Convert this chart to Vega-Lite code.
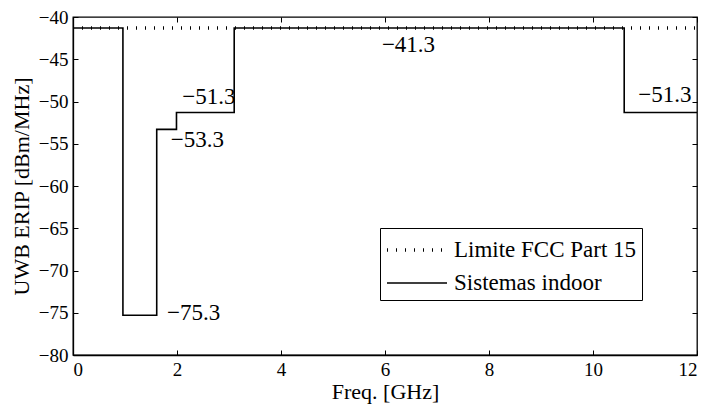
{
  "$schema": "https://vega.github.io/schema/vega-lite/v6.json",
  "width": 624,
  "height": 338,
  "autosize": {"type": "none"},
  "padding": {"left": 73, "top": 17, "right": 12, "bottom": 53},
  "background": "white",
  "config": {
    "font": "Liberation Serif, Times New Roman, DejaVu Serif, serif",
    "view": {"stroke": "black", "strokeWidth": 1.3},
    "text": {"font": "Liberation Serif, Times New Roman, DejaVu Serif, serif"},
    "axis": {
      "domainColor": "black",
      "domainWidth": 1.3,
      "tickColor": "black",
      "tickWidth": 1,
      "tickSize": -5,
      "labelFont": "Liberation Serif, Times New Roman, DejaVu Serif, serif",
      "labelFontSize": 19,
      "labelColor": "black",
      "titleFont": "Liberation Serif, Times New Roman, DejaVu Serif, serif",
      "titleFontSize": 22,
      "titleFontWeight": "normal",
      "titleColor": "black",
      "grid": false
    },
    "legend": {
      "labelFont": "Liberation Serif, Times New Roman, DejaVu Serif, serif",
      "labelLimit": 400
    }
  },
  "datasets": {
    "fcc": [
      {"f": 0, "p": -41.3, "series": "Limite FCC Part 15"},
      {"f": 12, "p": -41.3, "series": "Limite FCC Part 15"}
    ],
    "mask": [
      {"f": 0, "p": -41.3, "series": "Sistemas indoor"},
      {"f": 0.96, "p": -75.3, "series": "Sistemas indoor"},
      {"f": 1.61, "p": -53.3, "series": "Sistemas indoor"},
      {"f": 1.99, "p": -51.3, "series": "Sistemas indoor"},
      {"f": 3.1, "p": -41.3, "series": "Sistemas indoor"},
      {"f": 10.6, "p": -51.3, "series": "Sistemas indoor"},
      {"f": 12, "p": -51.3, "series": "Sistemas indoor"}
    ],
    "labels": [
      {"f": 5.94, "p": -43.3, "t": "−41.3"},
      {"f": 2.1, "p": -49.5, "t": "−51.3"},
      {"f": 1.88, "p": -54.6, "t": "−53.3"},
      {"f": 1.81, "p": -75.0, "t": "−75.3"},
      {"f": 10.87, "p": -49.2, "t": "−51.3"}
    ]
  },
  "layer": [
    {
      "data": {"name": "fcc"},
      "mark": {"type": "line", "color": "black", "clip": true},
      "encoding": {
        "x": {
          "field": "f", "type": "quantitative",
          "scale": {"domain": [0, 12], "nice": false, "zero": false},
          "axis": {"orient": "bottom", "values": [0, 2, 4, 6, 8, 10, 12], "title": "Freq. [GHz]", "labelPadding": 10, "titlePadding": 2}
        },
        "y": {
          "field": "p", "type": "quantitative",
          "scale": {"domain": [-80, -40], "nice": false, "zero": false},
          "axis": {"orient": "left", "values": [-80, -75, -70, -65, -60, -55, -50, -45, -40], "title": "UWB ERIP [dBm/MHz]", "labelPadding": 10, "titlePadding": 5}
        },
        "strokeDash": {
          "field": "series", "type": "nominal",
          "scale": {"domain": ["Limite FCC Part 15", "Sistemas indoor"], "range": [[1, 8], [1, 0]]},
          "legend": {
            "orient": "none", "legendX": 307, "legendY": 211, "title": null,
            "strokeColor": "black", "fillColor": "white", "padding": 5, "rowPadding": 5,
            "labelFontSize": 23, "labelColor": "black", "labelLimit": 400,
            "symbolType": "M-1,0H3", "symbolSize": 900, "labelOffset": 35, "symbolStrokeColor": "black"
          }
        },
        "strokeWidth": {
          "field": "series", "type": "nominal",
          "scale": {"domain": ["Limite FCC Part 15", "Sistemas indoor"], "range": [3.5, 1.6]},
          "legend": {
            "orient": "none", "legendX": 307, "legendY": 211, "title": null,
            "strokeColor": "black", "fillColor": "white", "padding": 5, "rowPadding": 5,
            "labelFontSize": 23, "labelColor": "black", "labelLimit": 400,
            "symbolType": "M-1,0H3", "symbolSize": 900, "labelOffset": 35, "symbolStrokeColor": "black"
          }
        }
      }
    },
    {
      "data": {"name": "mask"},
      "mark": {"type": "line", "color": "black", "interpolate": "step-after", "clip": true},
      "encoding": {
        "x": {"field": "f", "type": "quantitative", "axis": null},
        "y": {"field": "p", "type": "quantitative", "axis": null},
        "strokeDash": {"field": "series", "type": "nominal"},
        "strokeWidth": {"field": "series", "type": "nominal"}
      }
    },
    {
      "data": {"name": "labels"},
      "mark": {"type": "text", "align": "left", "baseline": "middle", "fontSize": 23, "color": "black"},
      "encoding": {
        "x": {"field": "f", "type": "quantitative", "axis": {"orient": "top", "values": [0, 2, 4, 6, 8, 10, 12], "labels": false, "title": null, "domain": false}},
        "y": {"field": "p", "type": "quantitative", "axis": {"orient": "right", "values": [-80, -75, -70, -65, -60, -55, -50, -45, -40], "labels": false, "title": null, "domain": false}},
        "text": {"field": "t", "type": "nominal"}
      }
    }
  ],
  "resolve": {"axis": {"x": "independent", "y": "independent"}}
}
